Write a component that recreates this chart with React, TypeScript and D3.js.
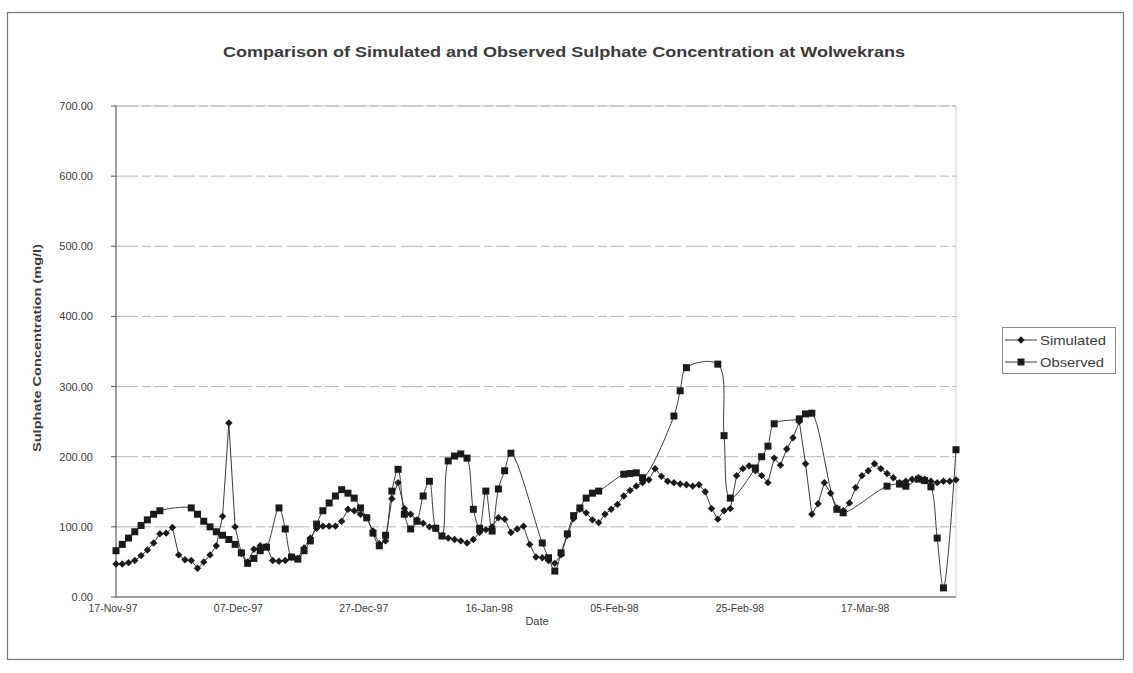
import React from "react";
import * as d3 from "d3";

// Period covered by the date axis
const AXIS_START = "1997-11-17";
const AXIS_END = "1998-03-31";

// Labelled dates on the x axis (every 20 days)
const dateTicks = [
  "1997-11-17", "1997-12-07", "1997-12-27", "1998-01-16",
  "1998-02-05", "1998-02-25", "1998-03-17",
];

// Value axis ticks (mg/l)
const valueTicks = [0, 100, 200, 300, 400, 500, 600, 700];

// Simulated sulphate: days since 17-Nov-97 and concentration (mg/l)
const simulatedDay = [
  0, 1, 2, 3, 4, 5, 6, 7, 8, 9, 10, 11, 12, 13, 14, 15, 16, 17, 18, 19,
  20, 21, 22, 23, 24, 25, 26, 27, 28, 29, 30, 31, 32, 33, 34, 35, 36, 37, 38, 39,
  40, 41, 42, 43, 44, 45, 46, 47, 48, 49, 50, 51, 52, 53, 54, 55, 56, 57, 58, 59,
  60, 61, 62, 63, 64, 65, 66, 67, 68, 69, 70, 71, 72, 73, 74, 75, 76, 77, 78, 79,
  80, 81, 82, 83, 84, 85, 86, 87, 88, 89, 90, 91, 92, 93, 94, 95, 96, 97, 98, 99,
  100, 101, 102, 103, 104, 105, 106, 107, 108, 109, 110, 111, 112, 113, 114, 115, 116, 117, 118, 119,
  120, 121, 122, 123, 124, 125, 126, 127, 128, 129, 130, 131, 132, 133, 134,
];
const simulatedValue = [
  47, 47, 49, 52, 59, 67, 77, 90, 91, 99, 60, 53, 52, 41, 50, 60, 73, 115, 248, 100,
  62, 50, 68, 73, 72, 52, 51, 52, 57, 55, 70, 84, 98, 101, 101, 101, 108, 125, 123, 118,
  113, 94, 76, 80, 140, 163, 126, 118, 110, 105, 100, 98, 87, 84, 82, 80, 77, 82, 92, 96,
  100, 113, 111, 92, 97, 101, 75, 57, 56, 52, 48, 60, 88, 112, 125, 120, 110, 106, 118, 125,
  132, 144, 152, 158, 163, 167, 183, 172, 165, 163, 161, 160, 158, 160, 150, 126, 111, 123, 126, 173,
  183, 187, 180, 173, 163, 198, 188, 211, 227, 250, 190, 118, 133, 163, 148, 127, 123, 134, 156, 173,
  180, 190, 183, 176, 170, 163, 165, 168, 170, 168, 165, 163, 165, 165, 167,
];

// Observed sulphate: sampling days since 17-Nov-97 and concentration (mg/l)
const observedDay = [
  0, 1, 2, 3, 4, 5, 6, 7, 12, 13, 14, 15, 16, 17, 18, 19, 20, 21, 22, 23,
  24, 26, 27, 28, 29, 30, 31, 32, 33, 34, 35, 36, 37, 38, 39, 40, 41, 42, 43, 44,
  45, 46, 47, 48, 49, 50, 51, 52, 53, 54, 55, 56, 57, 58, 59, 60, 61, 62, 63, 68,
  69, 70, 71, 72, 73, 74, 75, 76, 77, 81, 82, 83, 84, 89, 90, 91, 96, 97, 98, 102,
  103, 104, 105, 109, 110, 111, 115, 116, 123, 125, 126, 128, 129, 130, 131, 132, 134,
];
const observedValue = [
  66, 75, 84, 93, 102, 110, 118, 123, 127, 118, 108, 100, 93, 88, 82, 75, 63, 48, 55, 66,
  71, 127, 97, 57, 54, 66, 80, 104, 123, 134, 144, 153, 148, 141, 127, 113, 91, 73, 88, 151,
  182, 118, 97, 108, 144, 165, 98, 87, 194, 201, 204, 198, 125, 98, 151, 94, 154, 180, 205, 77,
  56, 37, 63, 90, 116, 127, 141, 148, 151, 175, 176, 177, 170, 258, 294, 327, 332, 230, 141, 184,
  200, 215, 247, 254, 261, 262, 125, 120, 158, 161, 158, 168, 166, 157, 84, 13, 210,
];

const W = 1133;
const H = 673;
const FONT = "'Liberation Sans', Arial, Helvetica, sans-serif";
const INK = "#1a1a1a";
const LINE = "#3a3a3a";
const TEXT = "#3a3a3a";

const parseDay = d3.timeParse("%Y-%m-%d");
const fmtDate = d3.timeFormat("%d-%b-%y");
const fmtValue = d3.format(".2f");

type Pt = { date: Date; value: number };

function toPoints(days: number[], values: number[]): Pt[] {
  const start = parseDay(AXIS_START) as Date;
  return days.map((d, i) => ({ date: d3.timeDay.offset(start, d), value: values[i] }));
}

const diamond = "M0,-3.7L3.7,0L0,3.7L-3.7,0Z";
const square = "M-3.5,-3.5H3.5V3.5H-3.5Z";

export default function App() {
  const plot = { left: 116, right: 956, top: 106, bottom: 597 };

  const x = d3
    .scaleTime()
    .domain([parseDay(AXIS_START) as Date, parseDay(AXIS_END) as Date])
    .range([plot.left, plot.right]);
  const y = d3.scaleLinear().domain([0, 700]).range([plot.bottom, plot.top]);

  const simulated = toPoints(simulatedDay, simulatedValue);
  const observed = toPoints(observedDay, observedValue);

  const simLine = d3
    .line<Pt>()
    .x((p) => x(p.date))
    .y((p) => y(p.value));
  const obsLine = d3
    .line<Pt>()
    .x((p) => x(p.date))
    .y((p) => y(p.value))
    .curve(d3.curveCatmullRom.alpha(0.5));

  const legend = { x: 1002, y: 327, w: 113, h: 46 };

  return (
    <svg
      width={W}
      height={H}
      viewBox={`0 0 ${W} ${H}`}
      style={{ position: "absolute", left: 0, top: 0, background: "#fff" }}
      fontFamily={FONT}
    >
      <rect x={0} y={0} width={W} height={H} fill="#fff" />
      {/* chart frame */}
      <rect x={7.5} y={12.5} width={1116} height={647} fill="none" stroke="#777" strokeWidth={1.2} />

      {/* title */}
      <text
        x={564}
        y={57}
        textAnchor="middle"
        fontSize={14}
        fontWeight="bold"
        fill={TEXT}
        textLength={682}
        lengthAdjust="spacingAndGlyphs"
      >
        Comparison of Simulated and Observed Sulphate Concentration at Wolwekrans
      </text>

      {/* plot area border */}
      <rect
        x={plot.left}
        y={plot.top}
        width={plot.right - plot.left}
        height={plot.bottom - plot.top}
        fill="none"
        stroke="#cfcfcf"
        strokeWidth={1}
      />

      {/* horizontal gridlines */}
      {valueTicks
        .filter((v) => v > 0)
        .map((v) => (
          <line
            key={`g${v}`}
            x1={plot.left}
            x2={plot.right}
            y1={y(v)}
            y2={y(v)}
            stroke="#b4b4b4"
            strokeWidth={1}
            strokeDasharray="22 4 9 3 14 5"
          />
        ))}

      {/* value axis */}
      <line x1={plot.left} x2={plot.left} y1={plot.top} y2={plot.bottom} stroke="#555" strokeWidth={1} />
      {valueTicks.map((v) => (
        <g key={`y${v}`}>
          <line x1={plot.left - 5} x2={plot.left} y1={y(v)} y2={y(v)} stroke="#555" />
          <text x={93} y={y(v) + 4} textAnchor="end" fontSize={11} fill={TEXT}>
            {fmtValue(v)}
          </text>
        </g>
      ))}

      {/* date axis */}
      <line x1={plot.left} x2={plot.right} y1={plot.bottom} y2={plot.bottom} stroke="#555" strokeWidth={1} />
      {dateTicks.map((s) => {
        const d = parseDay(s) as Date;
        return (
          <text key={s} x={x(d) - 3} y={612} textAnchor="middle" fontSize={10.5} fill={TEXT}>
            {fmtDate(d)}
          </text>
        );
      })}

      {/* axis titles */}
      <text x={537} y={625} textAnchor="middle" fontSize={11} fill={TEXT}>
        Date
      </text>
      <text
        transform={`translate(41,348) rotate(-90)`}
        textAnchor="middle"
        fontSize={11}
        fontWeight="bold"
        fill={TEXT}
        textLength={208}
        lengthAdjust="spacingAndGlyphs"
      >
        Sulphate Concentration (mg/l)
      </text>

      {/* series lines */}
      <path d={obsLine(observed) ?? ""} fill="none" stroke={LINE} strokeWidth={1} />
      <path d={simLine(simulated) ?? ""} fill="none" stroke={LINE} strokeWidth={1} />

      {/* markers */}
      {simulated.map((p, i) => (
        <path key={`s${i}`} d={diamond} transform={`translate(${x(p.date)},${y(p.value)})`} fill={INK} />
      ))}
      {observed.map((p, i) => (
        <path key={`o${i}`} d={square} transform={`translate(${x(p.date)},${y(p.value)})`} fill={INK} />
      ))}

      {/* legend */}
      <rect x={legend.x + 0.5} y={legend.y + 0.5} width={legend.w} height={legend.h} fill="#fff" stroke="#888" />
      <line x1={legend.x + 3} x2={legend.x + 35} y1={legend.y + 13} y2={legend.y + 13} stroke={LINE} />
      <path d={diamond} transform={`translate(${legend.x + 19},${legend.y + 13})`} fill={INK} />
      <text
        x={legend.x + 38}
        y={legend.y + 18}
        fontSize={13}
        fill={TEXT}
        textLength={66}
        lengthAdjust="spacingAndGlyphs"
      >
        Simulated
      </text>
      <line x1={legend.x + 3} x2={legend.x + 35} y1={legend.y + 35} y2={legend.y + 35} stroke={LINE} />
      <path d={square} transform={`translate(${legend.x + 19},${legend.y + 35})`} fill={INK} />
      <text
        x={legend.x + 38}
        y={legend.y + 40}
        fontSize={13}
        fill={TEXT}
        textLength={64}
        lengthAdjust="spacingAndGlyphs"
      >
        Observed
      </text>
    </svg>
  );
}
